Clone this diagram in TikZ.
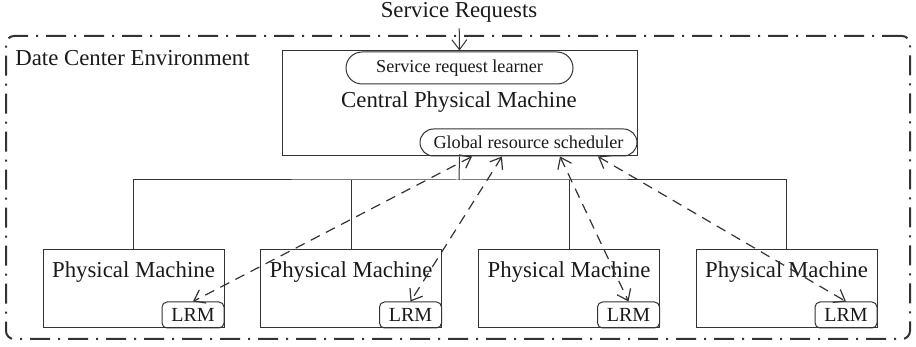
\documentclass[tikz,border=0pt]{standalone}
\usepackage{fontspec}
\setmainfont{Liberation Serif}
\usetikzlibrary{calc,arrows.meta,positioning,shapes.misc}
\definecolor{linec}{HTML}{333333}
\definecolor{textc}{HTML}{1A1A1A}
\newcommand{\bigsz}{\fontsize{11.4}{13}\selectfont}
\newcommand{\smallsz}{\fontsize{9.1}{11}\selectfont}
\newcommand{\lrmsz}{\fontsize{10}{12}\selectfont}
\tikzset{
  mbox/.style={draw=linec,line width=0.5pt,inner sep=0pt},
  pill/.style={draw=linec,line width=0.5pt,rounded rectangle,inner sep=0pt,font=\smallsz,text=textc},
  lrm/.style={draw=linec,line width=0.5pt,rounded corners=2.5pt,minimum width=31pt,minimum height=13pt,inner sep=0pt,font=\lrmsz,text=textc,anchor=south east},
  txt/.style={font=\bigsz,text=textc,inner sep=0pt},
  ln/.style={linec,line width=0.5pt},
  tip/.style={-{Straight Barb[length=5pt,width=7.5pt]}},
  dar/.style={{Straight Barb[length=5pt,width=7.5pt]}-{Straight Barb[length=5pt,width=7.5pt]},linec,line width=0.6pt,dash pattern=on 5pt off 3.5pt},
  env/.style={draw=linec,line width=1pt,rounded corners=4pt,dash pattern=on 10pt off 4pt on 1pt off 4pt,inner sep=0pt}
}
\begin{document}
\begin{tikzpicture}[x=0.5pt,y=-0.5pt]
\useasboundingbox (0,0) rectangle (916,347);
\node[env,minimum width=452pt,minimum height=151.5pt] (dce) at (458,187.5) {};
\node[txt,anchor=west] (dcel) at (15,58) {Date Center Environment};
\node[txt] (req) at (459,12) {Service Requests};
\node[mbox,minimum width=177.5pt,minimum height=52.5pt] (cpm) at (459.5,103.5) {};
\node[pill,minimum width=113.5pt,minimum height=16pt] (srl) at (459.5,68) {Service request learner};
\node[txt] (cpml) at (459,102) {Central Physical Machine};
\node[pill,minimum width=108.5pt,minimum height=13.5pt] (grs) at (528.5,142.5) {Global resource scheduler};
\draw[ln,tip,shorten <=3pt] (req) -- (cpm.north);
\foreach \i/\x in {1/133.5,2/351,3/569,4/786.5}{
  \node[mbox,minimum width=90.5pt,minimum height=39pt] (pm\i) at (\x,289) {};
  \node[txt] (pml\i) at (\x,272) {Physical Machine};
  \node[lrm] (lrm\i) at (pm\i.south east) {LRM};
}
\coordinate (bus) at (459,180);
\draw[ln] (cpm.south) -- (bus);
\draw[ln] (pm1.north) |- (bus) -| (pm4.north);
\draw[ln] (pm2.north) -- (pm2.north |- bus);
\draw[ln] (pm3.north) -- (pm3.north |- bus);
\foreach \i/\d in {1/-56.5,2/-26.5,3/31.5,4/69.5}
  \draw[dar] ($(grs.south)+(\d,0)$) -- (lrm\i.north);
\end{tikzpicture}
\end{document}
